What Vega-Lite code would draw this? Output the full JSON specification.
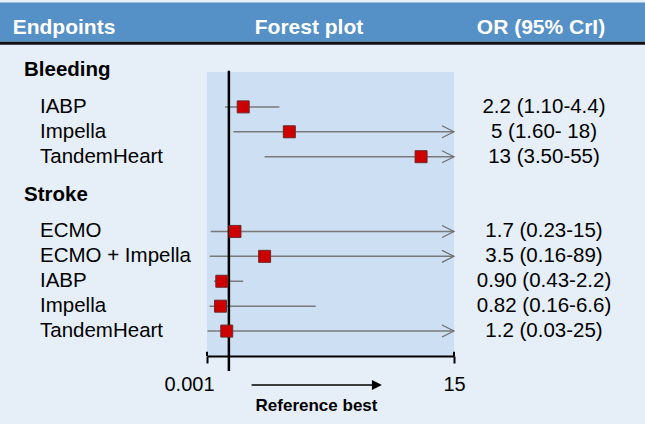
{
  "$schema": "https://vega.github.io/schema/vega-lite/v6.json",
  "width": 247,
  "height": 284,
  "autosize": {"type": "none"},
  "padding": {"left": 207, "top": 72, "right": 191, "bottom": 68},
  "background": "#e6eff8",
  "config": {
    "font": "Liberation Sans, Arial, Helvetica, sans-serif",
    "view": {"fill": "#cddff2", "stroke": null}
  },
  "datasets": {
    "rows": [
      {"group": "Bleeding", "device": "IABP", "rank": 2, "or": 2.2, "lo": 1.10, "hi": 4.4, "ci": "2.2 (1.10-4.4)"},
      {"group": "Bleeding", "device": "Impella", "rank": 3, "or": 5, "lo": 1.60, "hi": 18, "ci": "5 (1.60- 18)"},
      {"group": "Bleeding", "device": "TandemHeart", "rank": 4, "or": 13, "lo": 3.50, "hi": 55, "ci": "13 (3.50-55)"},
      {"group": "Stroke", "device": "ECMO", "rank": 7, "or": 1.7, "lo": 0.23, "hi": 15, "ci": "1.7 (0.23-15)"},
      {"group": "Stroke", "device": "ECMO + Impella", "rank": 8, "or": 3.5, "lo": 0.16, "hi": 89, "ci": "3.5 (0.16-89)"},
      {"group": "Stroke", "device": "IABP", "rank": 9, "or": 0.90, "lo": 0.43, "hi": 2.2, "ci": "0.90 (0.43-2.2)"},
      {"group": "Stroke", "device": "Impella", "rank": 10, "or": 0.82, "lo": 0.16, "hi": 6.6, "ci": "0.82 (0.16-6.6)"},
      {"group": "Stroke", "device": "TandemHeart", "rank": 11, "or": 1.2, "lo": 0.03, "hi": 25, "ci": "1.2 (0.03-25)"}
    ],
    "groups": [
      {"group": "Bleeding", "rank": 1},
      {"group": "Stroke", "rank": 6}
    ],
    "axisEnds": [
      {"end": 0.001},
      {"end": 15}
    ]
  },
  "data": {"name": "rows"},
  "layer": [
    {
      "data": {"values": [{}]},
      "mark": {"type": "rect", "color": "#5590c6"},
      "encoding": {
        "x": {"value": -207}, "x2": {"value": 438},
        "y": {"value": -69.5}, "y2": {"value": -30.3}
      }
    },
    {
      "data": {"values": [{}]},
      "mark": {"type": "rule", "color": "#111111", "strokeWidth": 3},
      "encoding": {
        "x": {"value": -207}, "x2": {"value": 438},
        "y": {"value": -28.7}
      }
    },
    {
      "data": {"values": [{}]},
      "mark": {"type": "text", "text": "Endpoints", "align": "left", "baseline": "alphabetic", "fontSize": 21, "fontWeight": "bold", "color": "#ffffff"},
      "encoding": {"x": {"value": -194.3}, "y": {"value": -37.7}}
    },
    {
      "data": {"values": [{}]},
      "mark": {"type": "text", "text": "Forest plot", "align": "center", "baseline": "alphabetic", "fontSize": 21, "fontWeight": "bold", "color": "#ffffff"},
      "encoding": {"x": {"value": 102}, "y": {"value": -37.7}}
    },
    {
      "data": {"values": [{}]},
      "mark": {"type": "text", "text": "OR (95% CrI)", "align": "center", "baseline": "alphabetic", "fontSize": 21, "fontWeight": "bold", "color": "#ffffff"},
      "encoding": {"x": {"value": 334}, "y": {"value": -37.7}}
    },
    {
      "mark": {"type": "rule", "color": "#7a7a7a", "strokeWidth": 1.5},
      "encoding": {
        "x": {
          "field": "lo", "type": "quantitative",
          "scale": {"domain": [0.001, 15], "clamp": true, "nice": false, "zero": false},
          "axis": {
            "orient": "bottom", "values": [0.001, 15], "format": "~g",
            "grid": false, "labelFlush": false,
            "domainColor": "#000000", "domainWidth": 2,
            "tickColor": "#000000", "tickWidth": 2, "tickSize": 7,
            "labelFontSize": 20, "labelColor": "#000000", "labelPadding": 27, "labelBaseline": "alphabetic",
            "labelOffset": {"condition": {"test": "datum.value < 1", "value": -18}, "value": 0},
            "title": "Reference best", "titleFontSize": 17, "titleFontWeight": "bold", "titleColor": "#000000",
            "titleX": 109, "titleY": 54.7, "titleBaseline": "alphabetic", "titleAlign": "center", "titleAngle": 0
          }
        },
        "x2": {"field": "hi"},
        "y": {"field": "rank", "type": "quantitative", "scale": {"domain": [0.6, 12], "reverse": true, "nice": false, "zero": false}, "axis": null}
      }
    },
    {
      "transform": [{"filter": "datum.hi >= 15"}],
      "mark": {"type": "point", "shape": "M-2,-1L0,0L-2,1", "size": 144, "filled": false, "stroke": "#6f6f6f", "strokeWidth": 1.2, "opacity": 1},
      "encoding": {
        "x": {"field": "hi", "type": "quantitative"},
        "y": {"field": "rank", "type": "quantitative", "axis": null}
      }
    },
    {
      "data": {"name": "axisEnds"},
      "mark": {"type": "rule", "color": "#000000", "strokeWidth": 2},
      "encoding": {
        "x": {"field": "end", "type": "quantitative"},
        "y": {"datum": 11.83, "type": "quantitative", "axis": null},
        "y2": {"datum": 12}
      }
    },
    {
      "data": {"values": [{}]},
      "mark": {"type": "rule", "color": "#000000", "strokeWidth": 2.5},
      "encoding": {
        "x": {"datum": 1.33, "type": "quantitative"},
        "y": {"datum": 0.55, "type": "quantitative", "axis": null},
        "y2": {"datum": 12.6}
      }
    },
    {
      "mark": {"type": "point", "shape": "square", "size": 144, "filled": true, "fill": "#cc0000", "stroke": "#6e2a2a", "strokeWidth": 1, "opacity": 1},
      "encoding": {
        "x": {"field": "or", "type": "quantitative"},
        "y": {"field": "rank", "type": "quantitative", "axis": null}
      }
    },
    {
      "data": {"values": [{}]},
      "mark": {"type": "rule", "color": "#000000", "strokeWidth": 1.5},
      "encoding": {
        "x": {"datum": 2.71, "type": "quantitative"},
        "x2": {"datum": 10.02},
        "y": {"datum": 13.165, "type": "quantitative", "axis": null}
      }
    },
    {
      "data": {"values": [{}]},
      "mark": {"type": "point", "shape": "M-1,-1L1,0L-1,1Z", "size": 100, "filled": true, "fill": "#000000", "opacity": 1, "strokeWidth": 0},
      "encoding": {
        "x": {"datum": 10.32, "type": "quantitative"},
        "y": {"datum": 13.165, "type": "quantitative", "axis": null}
      }
    },
    {
      "mark": {"type": "text", "align": "left", "baseline": "middle", "dy": 0, "fontSize": 20.5, "color": "#000000"},
      "encoding": {
        "x": {"value": -167},
        "y": {"field": "rank", "type": "quantitative", "axis": null},
        "text": {"field": "device"}
      }
    },
    {
      "data": {"name": "groups"},
      "mark": {"type": "text", "align": "left", "baseline": "middle", "dy": -12, "fontSize": 20.5, "fontWeight": "bold", "color": "#000000"},
      "encoding": {
        "x": {"value": -183},
        "y": {"field": "rank", "type": "quantitative", "axis": null},
        "text": {"field": "group"}
      }
    },
    {
      "mark": {"type": "text", "align": "center", "baseline": "middle", "dy": 0, "fontSize": 20.5, "color": "#000000"},
      "encoding": {
        "x": {"value": 337},
        "y": {"field": "rank", "type": "quantitative", "axis": null},
        "text": {"field": "ci"}
      }
    }
  ]
}
